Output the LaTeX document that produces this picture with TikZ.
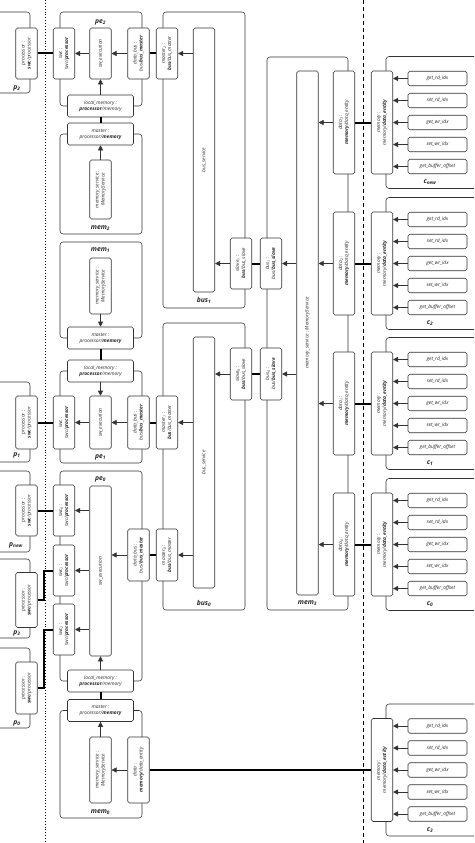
\documentclass[tikz,border=0pt]{standalone}
\usepackage{fontspec}
\setmainfont{Open Sans}
\usetikzlibrary{arrows.meta}

\newcommand{\vtext}[2]{\rotatebox{90}{\begin{tabular}{@{}c@{}}#1\\#2\end{tabular}}}
\newcommand{\htext}[2]{\begin{tabular}{@{}c@{}}#1\\#2\end{tabular}}

\tikzset{
  box/.style={draw=black!80, fill=white, rounded corners=1.8pt, inner sep=0pt,
    line width=0.55pt, text=black!85, font=\fontsize{4.9}{5.9}\selectfont\itshape},
  vbox/.style={box, minimum width=21.5pt},
  hbox/.style={box, minimum width=66pt, minimum height=22pt},
  meth/.style={box, minimum width=59pt, minimum height=14.5pt},
  frame/.style={draw=black!80, rounded corners=3pt, line width=0.55pt},
  lbl/.style={text=black!85, font=\fontsize{6.8}{8}\selectfont\bfseries\itshape},
  arr/.style={-{Triangle[length=5pt,width=5pt]}, line width=0.55pt, draw=black!80},
  link/.style={line width=2pt},
}

\begin{document}
\begin{tikzpicture}[x=1pt,y=-1pt]
\useasboundingbox (0,0) rectangle (474,843);
\clip (0,0) rectangle (474,843);

% separators
\draw[dotted, line width=0.9pt] (45,0) -- (45,843);
\draw[dash pattern=on 4pt off 3pt, line width=0.55pt] (363,0) -- (363,843);

% processors
\draw[frame] (-10,12) rectangle (30,93);
\draw[frame] (-10,382) rectangle (30,462);
\draw[frame] (-10,471) rectangle (30,552);
\draw[frame] (-10,559) rectangle (30,638);
\draw[frame] (-10,648) rectangle (30,728);
\node[lbl] (p2l) at (17,88) {p\textsubscript{2}};
\node[lbl] (p1l) at (17,455) {p\textsubscript{1}};
\node[lbl] (pnewl) at (16,545) {p\textsubscript{new}};
\node[lbl] (p3l) at (17,633) {p\textsubscript{3}};
\node[lbl] (p0l) at (17,723) {p\textsubscript{0}};
\node[vbox, minimum height=51pt] (p2) at (26.5,53.5) {\vtext{processor :}{\textbf{swc}/processor}};
\node[vbox, minimum height=53pt] (p1) at (26.5,422.5) {\vtext{processor :}{\textbf{swc}/processor}};
\node[vbox, minimum height=51pt] (pnew) at (26.5,510.5) {\vtext{processor :}{\textbf{swc}/processor}};
\node[vbox, minimum height=55pt] (p3) at (26.5,600) {\vtext{processor :}{\textbf{swc}/processor}};
\node[vbox, minimum height=52pt] (p0) at (26.5,688) {\vtext{processor :}{\textbf{swc}/processor}};

% processing elements and memories
\draw[frame] (60,12) rectangle (142,106);
\draw[frame] (60,134) rectangle (142,234);
\draw[frame] (60,242) rectangle (142,338);
\draw[frame] (60,371) rectangle (142,463);
\draw[frame] (60,471) rectangle (142,681);
\draw[frame] (60,710.5) rectangle (142,818);
\node[lbl] (pe2l) at (100.5,22) {pe\textsubscript{2}};
\node[lbl] (mem2l) at (100.5,228) {mem\textsubscript{2}};
\node[lbl] (mem1l) at (100.5,250) {mem\textsubscript{1}};
\node[lbl] (pe1l) at (100.5,457) {pe\textsubscript{1}};
\node[lbl] (pe0l) at (100.5,479) {pe\textsubscript{0}};
\node[lbl] (mem0l) at (100.5,812) {mem\textsubscript{0}};

% pe2 / mem2
\node[vbox, minimum height=51pt] (swc2) at (64,53.5) {\vtext{swc :}{swc/\textbf{processor}}};
\node[vbox, minimum height=51pt] (sx2) at (100.5,53.5) {\rotatebox{90}{sw\_execution}};
\node[vbox, minimum height=51pt] (db2) at (138.5,53.5) {\vtext{data\_bus :}{bus/\textbf{bus\_master}}};
\node[hbox] (lm2) at (100.5,106) {\htext{local\_memory :}{\textbf{processor}/memory}};
\node[hbox] (ma2) at (100.5,134) {\htext{master :}{processor/\textbf{memory}}};
\node[vbox, minimum height=59pt] (ms2) at (100.5,189.5) {\vtext{memory\_service :}{MemoryService}};

% mem1 / pe1
\node[vbox, minimum height=56pt] (ms1) at (100.5,286) {\vtext{memory\_service :}{MemoryService}};
\node[hbox] (ma1) at (100.5,338) {\htext{master :}{processor/\textbf{memory}}};
\node[hbox] (lm1) at (100.5,371) {\htext{local\_memory :}{\textbf{processor}/memory}};
\node[vbox, minimum height=53pt] (swc1) at (64,422.5) {\vtext{swc :}{swc/\textbf{processor}}};
\node[vbox, minimum height=53pt] (sx1) at (100.5,422.5) {\rotatebox{90}{sw\_execution}};
\node[vbox, minimum height=53pt] (db1) at (138.5,422.5) {\vtext{data\_bus :}{bus/\textbf{bus\_master}}};

% pe0 / mem0
\node[vbox, minimum height=51pt] (swc0a) at (64,510.5) {\vtext{swc\textsubscript{0} :}{swc/\textbf{processor}}};
\node[vbox, minimum height=51pt] (swc0b) at (64,570.5) {\vtext{swc\textsubscript{1} :}{swc/\textbf{processor}}};
\node[vbox, minimum height=51pt] (swc0c) at (64,629.5) {\vtext{swc\textsubscript{2} :}{swc/\textbf{processor}}};
\node[vbox, minimum height=170pt] (sx0) at (100.5,571) {\rotatebox{90}{sw\_execution}};
\node[vbox, minimum height=52pt] (db0) at (138.5,555) {\vtext{data\_bus :}{bus/\textbf{bus\_master}}};
\node[hbox] (lm0) at (100.5,681) {\htext{local\_memory :}{\textbf{processor}/memory}};
\node[hbox] (ma0) at (100.5,710.5) {\htext{master :}{processor/\textbf{memory}}};
\node[vbox, minimum height=66pt] (ms0) at (100.5,770) {\vtext{memory\_service :}{MemoryService}};
\node[vbox, minimum height=66pt] (md0) at (138.5,770) {\vtext{data :}{\textbf{memory}/data\_entity}};

% buses
\draw[frame] (163,12) rectangle (245,308);
\draw[frame] (163,323) rectangle (245,610);
\node[lbl] (bus1l) at (204,300) {bus\textsubscript{1}};
\node[lbl] (bus0l) at (204,603) {bus\textsubscript{0}};
\node[vbox, minimum height=51pt] (bm2) at (167,53.5) {\vtext{master\textsubscript{2} :}{\textbf{bus}/bus\_master}};
\node[vbox, minimum height=264pt] (bs1) at (204,160) {\rotatebox{90}{bus\_service}};
\node[vbox, minimum height=51pt] (sl1) at (241,263.5) {\vtext{slave\textsubscript{1} :}{\textbf{bus}/bus\_slave}};
\node[vbox, minimum height=53pt] (bm1) at (167,422.5) {\vtext{master\textsubscript{1} :}{\textbf{bus}/bus\_master}};
\node[vbox, minimum height=52pt] (bm0) at (167,555) {\vtext{master\textsubscript{0} :}{\textbf{bus}/bus\_master}};
\node[vbox, minimum height=251pt] (bs0) at (204,462.5) {\rotatebox{90}{bus\_service}};
\node[vbox, minimum height=52pt] (sl0) at (241,374) {\vtext{slave\textsubscript{0} :}{\textbf{bus}/bus\_slave}};

% shared memory
\draw[frame] (267,57) rectangle (348,610);
\node[lbl] (mem3l) at (307.5,603) {mem\textsubscript{3}};
\node[vbox, minimum height=524pt] (ms3) at (307.5,333) {\rotatebox{90}{memory\_service : MemoryService}};
\node[vbox, minimum height=51pt] (mb1) at (271,263.5) {\vtext{bus\textsubscript{1} :}{bus/\textbf{bus\_slave}}};
\node[vbox, minimum height=52pt] (mb0) at (271,374) {\vtext{bus\textsubscript{0} :}{bus/\textbf{bus\_slave}}};
\foreach \n/\cy in {3/122.5, 2/263.5, 1/403.5, 0/544.5} {
  \node[vbox, minimum height=103pt] (dt\n) at (344,\cy) {\vtext{data\textsubscript{\n} :}{\textbf{memory}/data\_entity}};
  \draw[arr] (dt\n.west) -- (ms3.east |- dt\n);
}

% channels
\foreach \n/\cy in {new/122.5, 2/263.5, 1/403.5, 0/544.5, 3/770} {
  \draw[frame] (386,\cy-66) rectangle (485,\cy+66);
  \node[lbl] (cl\n) at (430,\cy+60) {c\textsubscript{\n}};
  \node[vbox, minimum height=103pt] (cm\n) at (382,\cy) {\vtext{memory :}{memory/\textbf{data\_entity}}};
  \foreach \m [count=\k from -2] in {get\_rd\_idx, set\_rd\_idx, get\_wr\_idx, set\_wr\_idx, get\_buffer\_offset} {
    \node[meth] (cm\n m\k) at (437.5,\cy+22*\k) {\m};
    \draw[arr] (cm\n m\k.west) -- (cm\n.east |- cm\n m\k);
  }
}

% connectors pe2
\draw[link] (p2.east) -- (swc2.west);
\draw[arr] (sx2.west) -- (swc2.east);
\draw[arr] (db2.west) -- (sx2.east);
\draw[arr] (lm2.north) -- (sx2.south);
\draw[link] (lm2.south) -- (ma2.north);
\draw[arr] (ms2.north) -- (ma2.south);
\draw[link] (db2.east) -- (bm2.west);
\draw[arr] (bs1.west |- bm2) -- (bm2.east);

% connectors mem1 / pe1
\draw[arr] (ms1.south) -- (ma1.north);
\draw[link] (ma1.south) -- (lm1.north);
\draw[arr] (lm1.south) -- (sx1.north);
\draw[link] (p1.east) -- (swc1.west);
\draw[arr] (sx1.west) -- (swc1.east);
\draw[arr] (db1.west) -- (sx1.east);
\draw[link] (db1.east) -- (bm1.west);
\draw[arr] (bs0.west |- bm1) -- (bm1.east);

% connectors pe0 / mem0
\draw[link] (pnew.east) -- (swc0a.west);
\draw[link] (p3.east) -- ([xshift=6pt]p3.east) |- (swc0b.west);
\draw[link] (p0.east) -- ([xshift=6pt]p0.east) |- (swc0c.west);
\draw[arr] (sx0.west |- swc0a) -- (swc0a.east);
\draw[arr] (sx0.west |- swc0b) -- (swc0b.east);
\draw[arr] (sx0.west |- swc0c) -- (swc0c.east);
\draw[arr] (db0.west) -- (sx0.east |- db0);
\draw[link] (db0.east) -- (bm0.west);
\draw[arr] (bs0.west |- bm0) -- (bm0.east);
\draw[arr] (lm0.north) -- (sx0.south);
\draw[link] (lm0.south) -- (ma0.north);
\draw[arr] (ms0.north) -- (ma0.south);
\draw[arr] (md0.west) -- (ms0.east);
\draw[link] (md0.east) -- (cm3.west);

% connectors buses / mem3
\draw[arr] (sl1.west) -- (bs1.east |- sl1);
\draw[link] (sl1.east) -- (mb1.west);
\draw[arr] (ms3.west |- mb1) -- (mb1.east);
\draw[arr] (sl0.west) -- (bs0.east |- sl0);
\draw[link] (sl0.east) -- (mb0.west);
\draw[arr] (ms3.west |- mb0) -- (mb0.east);
\draw[link] (dt3.east) -- (cmnew.west);
\draw[link] (dt2.east) -- (cm2.west);
\draw[link] (dt1.east) -- (cm1.west);
\draw[link] (dt0.east) -- (cm0.west);
\end{tikzpicture}
\end{document}
